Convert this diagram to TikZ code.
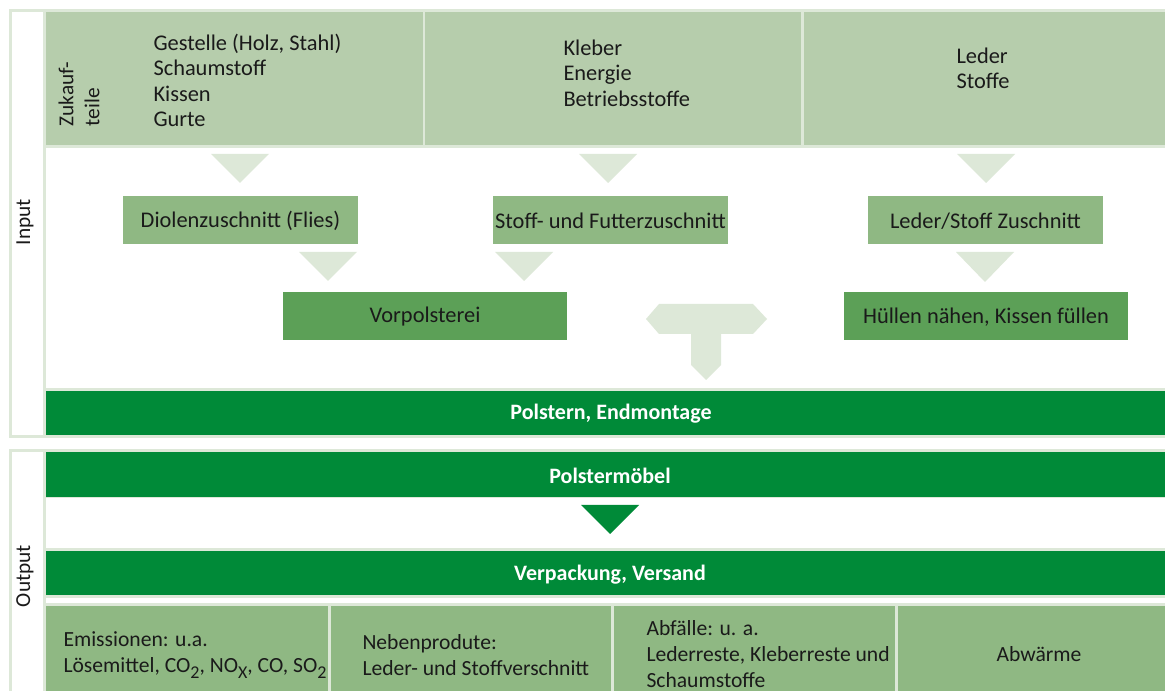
\documentclass[tikz,border=0pt]{standalone}
\usepackage{fontspec}
\setmainfont{Carlito}

\definecolor{rahmen}{HTML}{DDE8D8}
\definecolor{hellgruen}{HTML}{B6CDAC}
\definecolor{mittelgruen}{HTML}{8FB883}
\definecolor{dunkelgruen}{HTML}{5CA057}
\definecolor{balkengruen}{HTML}{008A38}
\definecolor{schrift}{HTML}{1A1A1A}

\newcommand{\tief}[1]{\raisebox{-0.55ex}{\fontsize{13.5}{13.5}\selectfont #1}}

\tikzset{every picture/.style={line width=0.75pt}}
\tikzset{
  txt/.style={inner sep=0.75pt, text=schrift, font=\fontsize{16.8}{19}\selectfont},
  liste/.style={txt, align=left, anchor=west},
  zelle/.style={liste, font=\fontsize{16.2}{19.7}\selectfont},
  seite/.style={txt, rotate=90, font=\fontsize{16}{19.5}\selectfont},
  weiss/.style={txt, text=white, font=\bfseries\fontsize{16.5}{19.5}\selectfont},
  pfeil/.style={fill=rahmen},
}

\begin{document}
\begin{tikzpicture}[x=0.75pt,y=0.75pt,yscale=-1,xscale=1]

\useasboundingbox (0,0) rectangle (1165,691);
\clip (0,0) rectangle (1165,691);

% Input-Rahmen
\fill [rahmen] (9,9) rectangle (1175,438) ;
\fill [white] (12,12) rectangle (43,435) ;
\fill [white] (46,148) rectangle (1175,388) ;
\fill [hellgruen] (46,12) rectangle (423,145) ;
\fill [hellgruen] (425,12) rectangle (801,145) ;
\fill [hellgruen] (804,12) rectangle (1175,145) ;

% Output-Rahmen
\fill [rahmen] (9,449) rectangle (1175,700) ;
\fill [white] (12,452) rectangle (43,700) ;
\fill [white] (46,498) rectangle (1175,548) ;
\fill [white] (46,598) rectangle (1175,603) ;

% Kaesten
\fill [mittelgruen] (123,196) rectangle (358,244) ;
\fill [mittelgruen] (493,196) rectangle (728,244) ;
\fill [mittelgruen] (868,196) rectangle (1103,244) ;
\fill [dunkelgruen] (283,292) rectangle (567,340) ;
\fill [dunkelgruen] (844,292) rectangle (1128,340) ;
\fill [balkengruen] (46,391) rectangle (1175,435) ;
\fill [balkengruen] (46,452) rectangle (1175,497) ;
\fill [balkengruen] (46,551) rectangle (1175,595) ;
\fill [mittelgruen] (46,606) rectangle (328,700) ;
\fill [mittelgruen] (331,606) rectangle (611,700) ;
\fill [mittelgruen] (614,606) rectangle (895,700) ;
\fill [mittelgruen] (898,606) rectangle (1175,700) ;

% Pfeile
\fill [pfeil] (211,154) -- (269,154) -- (240,183) -- cycle ;
\fill [pfeil] (579,154) -- (637,154) -- (608,183) -- cycle ;
\fill [pfeil] (957,154) -- (1015,154) -- (986,183) -- cycle ;
\fill [pfeil] (299,252) -- (357,252) -- (328,281) -- cycle ;
\fill [pfeil] (495,252) -- (553,252) -- (524,281) -- cycle ;
\fill [pfeil] (956,252) -- (1014,252) -- (985,282) -- cycle ;
\fill [pfeil] (646,319) -- (659,304) -- (753,304) -- (767,319) -- (753,334) -- (721,334) -- (721,365) -- (706,380) -- (691,365) -- (691,334) -- (659,334) -- cycle ;
\fill [balkengruen] (581,505) -- (639,505) -- (610,534) -- cycle ;

% Texte
\node [seite] (input) at (25,222) {Input};
\node [seite] (output) at (25,576) {Output};
\node [seite, align=left] (zukauf) at (79,94) {Zukauf-\\teile};
\node [liste] (gestelle) at (152,80.5) {Gestelle (Holz, Stahl)\\Schaumstoff\\Kissen\\Gurte};
\node [liste] (kleber) at (562,73) {Kleber\\Energie\\Betriebsstoffe};
\node [liste] (leder) at (955,68) {Leder\\Stoffe};

\node [txt] (diolen) at (240.5,221) {Diolenzuschnitt (Flies)};
\node [txt] (futter) at (610.5,221) {Stoff- und Futterzuschnitt};
\node [txt] (lederzu) at (985.5,221) {Leder/Stoff Zuschnitt};
\node [txt] (vorpolster) at (425,317) {Vorpolsterei};
\node [txt] (huellen) at (986,317) {Hüllen nähen, Kissen füllen};

\node [weiss] (endmontage) at (611,414) {Polstern, Endmontage};
\node [weiss] (moebel) at (610,476) {Polstermöbel};
\node [weiss] (versand) at (610,575) {Verpackung, Versand};

\node [zelle] (emission) at (62,655) {Emissionen: u.a.\\Lösemittel, CO\tief{2}, NO\tief{X}, CO, SO\tief{2}};
\node [zelle] (neben) at (361,655) {Nebenprodute:\\Leder- und Stoffverschnitt};
\node [zelle] (abfall) at (645,654) {Abfälle: u. a.\\Lederreste, Kleberreste und\\Schaumstoffe};
\node [txt, font=\fontsize{16.2}{19.7}\selectfont] (abwaerme) at (1039,654) {Abwärme};

\end{tikzpicture}
\end{document}
